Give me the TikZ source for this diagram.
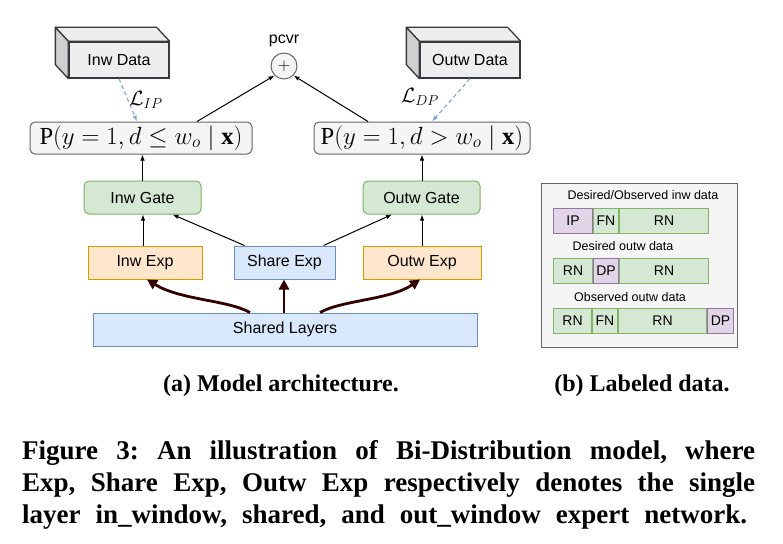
\documentclass[tikz,border=0pt]{standalone}
\usepackage{fontspec}
\setmainfont{Liberation Serif}
\newfontfamily\diafont{Liberation Sans}
\usetikzlibrary{arrows.meta}
\definecolor{gfill}{HTML}{D5E8D4}\definecolor{gdraw}{HTML}{82B366}
\definecolor{pfill}{HTML}{E1D5E7}\definecolor{pdraw}{HTML}{9673A6}
\definecolor{ofill}{HTML}{FFE6CC}\definecolor{odraw}{HTML}{D79B00}
\definecolor{bfill}{HTML}{DAE8FC}\definecolor{bdraw}{HTML}{6C8EBF}
\definecolor{lgfill}{HTML}{F5F5F5}\definecolor{lgdraw}{HTML}{666666}
\definecolor{cubefront}{HTML}{EEEEEE}\definecolor{cubeside}{HTML}{D0D0D0}
\definecolor{cubedraw}{HTML}{36393D}
\definecolor{darkred}{HTML}{330000}
\definecolor{dashblue}{HTML}{7EA6E0}
\frenchspacing
\tikzset{
  box/.style={draw, line width=1pt, inner sep=0pt, font=\diafont\fontsize{16}{18}\selectfont},
  gatebox/.style={box, fill=gfill, draw=gdraw, rounded corners=5pt, minimum width=117pt, minimum height=33pt},
  expbox/.style={box, fill=ofill, draw=odraw, minimum width=114pt, minimum height=33pt},
  sharebox/.style={box, fill=bfill, draw=bdraw, minimum height=33pt},
  pbox/.style={box, fill=lgfill, draw=lgdraw, rounded corners=5pt, minimum height=32pt, font=\fontsize{24.5}{26}\selectfont},
  cubebox/.style={box, fill=cubefront, draw=cubedraw, line width=1.3pt, minimum width=100pt, minimum height=36pt},
  cubeface/.style={draw=cubedraw, line width=1.3pt, line join=round},
  arr/.style={-{Latex[length=6pt,width=4.5pt]}, line width=1pt, black},
  dasharr/.style={-{Latex[length=6pt,width=4.5pt]}, line width=1.1pt, dashblue, dash pattern=on 4pt off 3pt},
  fatarr/.style={-{Triangle[length=10pt,width=10pt]}, line width=2.8pt, darkred},
  seg/.style={draw, line width=1pt, inner sep=0pt, minimum height=25pt, anchor=west, font=\diafont\fontsize{14}{16}\selectfont},
  gseg/.style={seg, fill=gfill, draw=gdraw},
  pseg/.style={seg, fill=pfill, draw=pdraw},
  smalltext/.style={font=\diafont\fontsize{12.5}{14}\selectfont, inner sep=0pt},
  subcap/.style={font=\bfseries\fontsize{24}{26}\selectfont, inner sep=0pt, anchor=base},
  capline/.style={font=\bfseries\fontsize{27}{30}\selectfont, inner sep=0pt, anchor=base west},
}
\begin{document}
\begin{tikzpicture}[x=1pt,y=-1pt]
\useasboundingbox (0,0) rectangle (783,543);
\fill[white] (0,0) rectangle (783,543);

% cubes
\node[cubebox] (idata) at (119,60) {Inw Data};
\node[cubebox] (odata) at (470,60) {Outw Data};
\foreach \c in {idata,odata}{
  \filldraw[cubeface, fill=cubefront] (\c.north west) -- ++(-13,-14) -- ([shift={(-13,-14)}]\c.north east) -- (\c.north east) -- cycle;
  \filldraw[cubeface, fill=cubeside] (\c.north west) -- ++(-13,-14) -- ([shift={(-13,-14)}]\c.south west) -- (\c.south west) -- cycle;
}

% pcvr
\node[circle, draw=lgdraw, fill=lgfill, line width=1pt, minimum size=26pt, inner sep=0pt, font=\fontsize{18}{18}\selectfont] (sum) at (284,66) {$+$};
\node[font=\diafont\fontsize{16}{18}\selectfont, inner sep=0pt] (pcvr) at (284,41) {pcvr};

% probability boxes
\node[pbox, minimum width=222pt] (pl) at (141,138) {$\mathrm{P}(y=1,d\le w_o\mid\mathbf{x})$};
\node[pbox, minimum width=216pt] (pr) at (422,138) {$\mathrm{P}(y=1,d> w_o\mid\mathbf{x})$};

% gates
\node[gatebox] (gl) at (142.5,197.5) {Inw Gate};
\node[gatebox] (gr) at (421.5,197.5) {Outw Gate};

% experts
\node[expbox] (el) at (145,262.5) {Inw Exp};
\node[sharebox, minimum width=101pt] (es) at (284.5,262.5) {Share Exp};
\node[expbox, minimum width=118pt] (er) at (422,262.5) {Outw Exp};

% shared layers
\node[sharebox, minimum width=384pt] (sl) at (285,329.5) {Shared Layers};

% connectors
\draw[dasharr] (idata.south) -- ([xshift=-4pt]pl.north);
\draw[dasharr] (odata.south) -- ([xshift=10pt]pr.north);
\node[font=\fontsize{20}{20}\selectfont, inner sep=0pt] (lip) at (146,100) {$\mathcal{L}_{IP}$};
\node[font=\fontsize{20}{20}\selectfont, inner sep=0pt] (ldp) at (420,97) {$\mathcal{L}_{DP}$};

\draw[arr] ([xshift=56pt]pl.north) -- (sum.south west);
\draw[arr] ([xshift=-54pt]pr.north) -- (sum.south east);

\draw[arr] (gl.north) -- (gl.north |- pl.south);
\draw[arr] ([xshift=0.5pt]gr.north) -- ([xshift=0.5pt]gr.north |- pr.south);

\draw[arr] ([xshift=-2pt]el.north) -- ([xshift=-2pt]el.north |- gl.south);
\draw[arr] ([xshift=11pt]es.north west) -- ([xshift=30pt]gl.south);
\draw[arr] ([xshift=-12pt]es.north east) -- ([xshift=-29.5pt]gr.south);
\draw[arr] (er.north) -- (er.north |- gr.south);

% thick arrows
\coordinate (sl1) at ([xshift=-35pt]sl.north);
\coordinate (sl3) at ([xshift=35pt]sl.north);
\coordinate (el1) at ([xshift=2pt]el.south);
\coordinate (er1) at ([xshift=-2pt]er.south);
\draw[fatarr] (sl1) .. controls (228,300) and (180,300) .. (el1);
\draw[fatarr] ([xshift=-1pt]sl.north) -- ([xshift=-1pt]sl.north |- es.south);
\draw[fatarr] (sl3) .. controls (342,300) and (390,300) .. (er1);

% labeled data panel
\node[draw=lgdraw, fill=lgfill, line width=1pt, minimum width=196pt, minimum height=164pt, inner sep=0pt] (panel) at (639,265) {};
\node[smalltext] (h1) at (643,195) {Desired/Observed inw data};
\node[pseg, minimum width=39pt] (a1) at (553,220.5) {IP};
\node[gseg, minimum width=25pt] (a2) at (a1.east) {FN};
\node[gseg, minimum width=89pt] (a3) at (a2.east) {RN};
\node[smalltext] (h2) at (623,246) {Desired outw data};
\node[gseg, minimum width=39pt] (b1) at (553,270.5) {RN};
\node[pseg, minimum width=25pt] (b2) at (b1.east) {DP};
\node[gseg, minimum width=89pt] (b3) at (b2.east) {RN};
\node[smalltext] (h3) at (630,297) {Observed outw data};
\node[gseg, minimum width=38pt] (c1) at (553,321) {RN};
\node[gseg, minimum width=25pt] (c2) at (c1.east) {FN};
\node[gseg, minimum width=88pt] (c3) at (c2.east) {RN};
\node[pseg, minimum width=26pt] (c4) at (c3.east) {DP};

% captions
\node[subcap] (capa) at (281,391) {(a) Model architecture.};
\node[subcap] (capb) at (642,391) {(b) Labeled data.};
\node[capline] (l1) at (22,459) {\makebox[733pt][s]{Figure 3: An illustration of Bi-Distribution model, where}};
\node[capline] (l2) at (22,491) {\makebox[733pt][s]{Exp, Share Exp, Outw Exp respectively denotes the single}};
\node[capline] (l3) at (22,523) {\makebox[725pt][s]{layer in\_window, shared, and out\_window expert network.}};
\end{tikzpicture}
\end{document}
